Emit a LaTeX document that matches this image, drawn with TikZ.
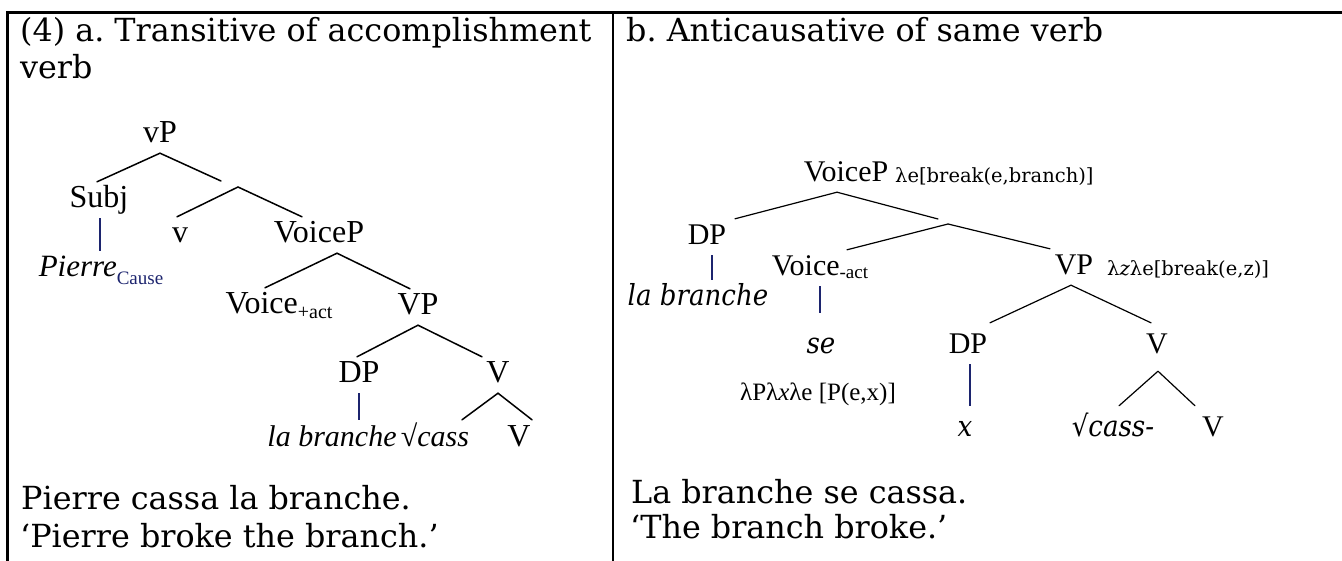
\documentclass[tikz,border=0pt]{standalone}
\usepackage{fontspec}
\setmainfont{Liberation Serif}
\newfontfamily\cambria{DejaVu Serif}
\newfontfamily\cambrianarrow[FakeStretch=0.9]{DejaVu Serif}
\usetikzlibrary{calc}
\definecolor{navy}{RGB}{28,36,110}
\frenchspacing

\begin{document}
\begin{tikzpicture}[x=1pt,y=-1pt,
  rule/.style={line width=2.4pt, black},
  hdr/.style={anchor=base west, inner sep=0pt, font=\cambria\fontsize{31.8}{38}\selectfont},
  lab/.style={anchor=base, inner sep=2pt, text height=24pt, text depth=8pt,
              font=\fontsize{32}{38}\selectfont},
  labr/.style={lab, font=\fontsize{30}{36}\selectfont},
  itl/.style={lab, font=\fontsize{30}{36}\selectfont\itshape},
  itr/.style={lab, font=\cambrianarrow\fontsize{29}{34}\selectfont\itshape},
  sem/.style={anchor=base west, inner sep=0pt, font=\cambria\fontsize{19.5}{24}\selectfont},
  semt/.style={anchor=base, inner sep=0pt, font=\fontsize{25}{30}\selectfont},
  branch/.style={line width=1.5pt, line cap=round},
  branchr/.style={line width=1.2pt, line cap=round},
  stem/.style={line width=1.5pt, draw=navy},
  stemr/.style={line width=1.3pt, draw=navy},
]
\useasboundingbox (0,0) rectangle (1342,561);

% table frame
\draw[rule] (7.5,12.5) -- (1342,12.5);
\draw[rule] (7.5,11.3) -- (7.5,561);
\draw[rule] (613,11.3) -- (613,561);

% headings and examples
\node[hdr] (hA1) at (20,42) {(4) a. Transitive of accomplishment};
\node[hdr] (hA2) at (20,79) {verb};
\node[hdr] (hB) at (626,42) {b. Anticausative of same verb};
\node[hdr] (exA1) at (21,509) {Pierre cassa la branche.};
\node[hdr] (exA2) at (20,547) {‘Pierre broke the branch.’};
\node[hdr] (exB1) at (631,503) {La branche se cassa.};
\node[hdr] (exB2) at (630,538) {‘The branch broke.’};

% ---- tree (a): transitive ----
\node[lab] (vP) at (160,143) {vP};
\node[lab] (Subj) at (99,208) {Subj};
\coordinate (vbarL) at (221,181);
\coordinate (vbar) at (238,187);
\node[lab] (v) at (180,243) {v};
\node[lab] (VoiceP) at (319,243) {VoiceP};
\node[lab, font=\fontsize{31}{36}\selectfont\itshape] (Pierre) at (101,277)
  {Pierre\raisebox{-8pt}{\upshape\color{navy}\fontsize{19}{19}\selectfont Cause}};
\node[lab] (Voice) at (279,314) {Voice\raisebox{-5pt}{\fontsize{20}{20}\selectfont +act}};
\node[lab] (VP) at (418,315) {VP};
\node[lab] (DP) at (359,383) {DP};
\node[lab] (V) at (498,383) {V};
\node[itl] (labr) at (332,446) {la branche};
\node[itl] (cass) at (435,446) {{\upshape √}cass};
\node[lab] (Vb) at (519,446) {V};

\draw[branch] (vP.south) -- ([xshift=-2pt]Subj.north);
\draw[branch] (vP.south) -- (vbarL);
\draw[branch] (vbar) -- ([xshift=-3pt]v.north);
\draw[branch] (vbar) -- ([xshift=-17pt]VoiceP.north);
\draw[stem] ([xshift=1pt]Subj.south) -- ([xshift=1pt]Subj.south |- Pierre.north);
\draw[branch] ([xshift=18pt]VoiceP.south) -- ([xshift=-14pt]Voice.north);
\draw[branch] ([xshift=18pt]VoiceP.south) -- ([xshift=-8pt]VP.north);
\draw[branch] (VP.south) -- ([xshift=-2pt]DP.north);
\draw[branch] (VP.south) -- ([xshift=-16pt]V.north);
\draw[stem] (DP.south) -- (DP.south |- labr.north);
\draw[branch] (V.south) -- ([xshift=27pt]cass.north);
\draw[branch] (V.south) -- ([xshift=13pt]Vb.north);

% ---- tree (b): anticausative ----
\node[labr] (VoicePr) at (846,182) {VoiceP};
\node[sem] (semA) at (895,183) {λe[break(e,branch)]};
\node[labr] (DPr) at (707,245) {DP};
\coordinate (vbar2L) at (938,219);
\coordinate (vbar2) at (948,224);
\node[labr] (Voicer) at (820,276) {Voice\raisebox{-3pt}{\fontsize{19}{19}\selectfont -act}};
\node[labr] (VPr) at (1074,275) {VP};
\node[sem] (semB) at (1107,276) {λ\textit{z}λe[break(e,z)]};
\node[itr] (labr2) at (698,306) {la branche};
\node[itr] (se) at (821,354) {se};
\node[semt] (semC) at (818,400) {λPλ\textit{x}λe [P(e,x)]};
\node[labr] (DP2) at (968,354) {DP};
\node[labr] (Vr) at (1157,354) {V};
\node[itr] (xv) at (965,436) {x};
\node[itr] (cass2) at (1113,436) {{\upshape √}cass-};
\node[labr] (Vb2) at (1213,436) {V};

\draw[branchr] ([xshift=-9pt]VoicePr.south) -- ([xshift=28pt]DPr.north);
\draw[branchr] ([xshift=-9pt]VoicePr.south) -- (vbar2L);
\draw[branchr] (vbar2) -- ([xshift=27pt]Voicer.north);
\draw[branchr] (vbar2) -- ([xshift=-24pt]VPr.north);
\draw[stemr] ([xshift=5pt]DPr.south) -- ([xshift=5pt]DPr.south |- labr2.north);
\draw[stemr, shorten >=15pt] (Voicer.south) -- (Voicer.south |- se.north);
\draw[branchr] ([xshift=-3pt]VPr.south) -- ([xshift=22pt,yshift=5pt]DP2.north);
\draw[branchr] ([xshift=-3pt]VPr.south) -- ([xshift=-6pt,yshift=5pt]Vr.north);
\draw[stemr, shorten >=4pt] ([xshift=2pt]DP2.south) -- ([xshift=2pt]DP2.south |- xv.north);
\draw[branchr] ([xshift=1pt,yshift=-7pt]Vr.south) -- ([xshift=6pt,yshift=4pt]cass2.north);
\draw[branchr] ([xshift=1pt,yshift=-7pt]Vr.south) -- ([xshift=-18pt,yshift=4pt]Vb2.north);
\end{tikzpicture}
\end{document}
